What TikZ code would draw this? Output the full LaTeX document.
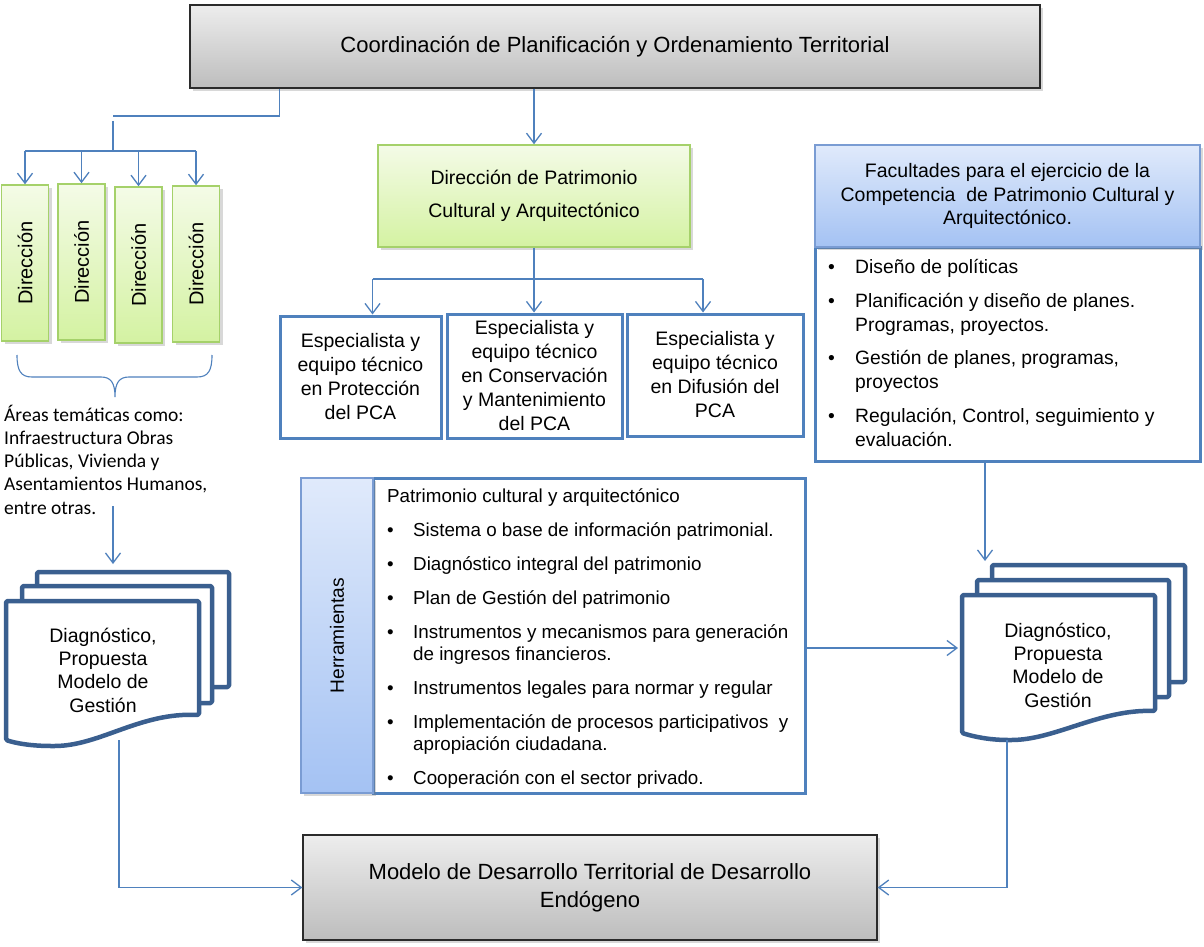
\documentclass[tikz,border=0pt]{standalone}
\usepackage{fontspec}
\setmainfont{Liberation Sans}
\newfontfamily\calibfont{Carlito}
\usepackage{graphicx}
\usetikzlibrary{arrows.meta,shadows,calc}
\definecolor{colLink}{HTML}{4F81BD}
\definecolor{colBlue}{HTML}{4F81BD}
\definecolor{colDoc}{HTML}{3A5F8F}
\definecolor{colGrayT}{HTML}{EDEDED}
\definecolor{colGrayD}{HTML}{BDBDBD}
\definecolor{colGrayB}{HTML}{2B2B2B}
\definecolor{colGreenT}{HTML}{F4FBE7}
\definecolor{colGreenD}{HTML}{D4F2A2}
\definecolor{colGreenB}{HTML}{A5D16A}
\definecolor{colHdrT}{HTML}{E0EAFB}
\definecolor{colHdrD}{HTML}{A4C2F3}
\definecolor{colHdrB}{HTML}{7A9CD3}
\newcommand{\fsz}[2]{\fontsize{#1pt}{#2pt}\selectfont}
\begin{document}
\begin{tikzpicture}[x=1pt,y=-1pt,
  lnk/.style={draw=colLink, line width=1.3pt},
  arr/.style={lnk, -{Straight Barb[length=10pt,width=15pt]}},
  shad/.style={drop shadow={shadow xshift=3pt, shadow yshift=-3pt, opacity=0.3}},
  graybox/.style={draw=colGrayB, line width=1.3pt, top color=colGrayT, bottom color=colGrayD, shad, inner sep=0pt, align=center},
  greenbox/.style={draw=colGreenB, line width=1.5pt, top color=colGreenT, bottom color=colGreenD, shad, inner sep=0pt, align=center},
  hdrbox/.style={draw=colHdrB, line width=1.5pt, top color=colHdrT, bottom color=colHdrD, shad, inner sep=0pt, align=center},
  specbox/.style={draw=colBlue, line width=3pt, fill=white, inner sep=0pt, align=center, font=\fsz{19.5}{24}},
  plainbox/.style={draw=colBlue, line width=3pt, fill=white, inner sep=0pt},
  docpage/.style={draw=colDoc, line width=4.5pt, fill=white, line join=round, rounded corners=1.5pt},
  doctext/.style={align=center, font=\fsz{19.5}{23.3}, inner sep=0pt}
]
\useasboundingbox (0,0) rectangle (1204,947);
\fill[white] (0,0) rectangle (1204,947);

% top box
\node[graybox, minimum width=850pt, minimum height=83pt, font=\fsz{22}{26}] (coord) at (615,46.5)
  {Coordinación de Planificación y Ordenamiento Territorial};

% direction boxes
\node[greenbox, minimum width=47pt, minimum height=156pt, font=\fsz{20}{22}] (dir1) at (25,263) {\rotatebox{90}{Dirección}};
\node[greenbox, minimum width=47pt, minimum height=156pt, font=\fsz{20}{22}] (dir2) at (81.5,262) {\rotatebox{90}{Dirección}};
\node[greenbox, minimum width=47pt, minimum height=156pt, font=\fsz{20}{22}] (dir3) at (138.5,265) {\rotatebox{90}{Dirección}};
\node[greenbox, minimum width=47pt, minimum height=156pt, font=\fsz{20}{22}] (dir4) at (196,264) {\rotatebox{90}{Dirección}};

% patrimonio
\node[greenbox, minimum width=312pt, minimum height=102pt, font=\fsz{19.5}{33}] (pat) at (534,196)
  {Dirección de Patrimonio\\Cultural y Arquitectónico};

% specialists
\node[specbox, minimum width=161pt, minimum height=122pt] (spA) at (360.5,377)
  {Especialista y\\equipo técnico\\en Protección\\del PCA};
\node[specbox, minimum width=175pt, minimum height=124pt] (spB) at (534.5,376)
  {Especialista y\\equipo técnico\\en Conservación\\y Mantenimiento\\del PCA};
\node[specbox, minimum width=176pt, minimum height=122pt] (spC) at (715,375)
  {Especialista y\\equipo técnico\\en Difusión del\\PCA};

% facultades
\node[plainbox, minimum width=385pt, minimum height=214pt] (facb) at (1007.5,354) {};
\node[hdrbox, minimum width=385pt, minimum height=102pt, font=\fsz{19.5}{23.5}] (fach) at (1007.5,196)
  {Facultades para el ejercicio de la\\Competencia\ \ de Patrimonio Cultural y\\Arquitectónico.};
\node[anchor=base west, inner sep=0pt, font=\fsz{19.3}{24}] (faclist) at (828,273)
  {\begin{tabular}[t]{@{}p{27pt}@{}l@{}}
   \textbullet & Diseño de políticas\\[10pt]
   \textbullet & Planificación y diseño de planes.\\
               & Programas, proyectos.\\[9pt]
   \textbullet & Gestión de planes, programas,\\
               & proyectos\\[10pt]
   \textbullet & Regulación, Control, seguimiento y\\
               & evaluación.
   \end{tabular}};

% herramientas
\node[plainbox, minimum width=432pt, minimum height=315pt] (hbox) at (589,635.5) {};
\node[hdrbox, minimum width=72pt, minimum height=315pt, font=\fsz{19.2}{22}] (hlab) at (337,635.5)
  {\rotatebox{90}{Herramientas}};
\node[anchor=base west, inner sep=0pt, font=\fsz{18.8}{22.5}] (hlist) at (387,502)
  {\begin{tabular}[t]{@{}p{26pt}@{}l@{}}
   \multicolumn{2}{@{}l@{}}{Patrimonio cultural y arquitectónico}\\[11.5pt]
   \textbullet & Sistema o base de información patrimonial.\\[11.5pt]
   \textbullet & Diagnóstico integral del patrimonio\\[11.5pt]
   \textbullet & Plan de Gestión del patrimonio\\[11.5pt]
   \textbullet & Instrumentos y mecanismos para generación\\
               & de ingresos financieros.\\[11pt]
   \textbullet & Instrumentos legales para normar y regular\\[11.5pt]
   \textbullet & Implementación de procesos participativos\ \ y\\
               & apropiación ciudadana.\\[11.5pt]
   \textbullet & Cooperación con el sector privado.
   \end{tabular}};

% areas text
\node[anchor=base west, inner sep=0pt, font=\calibfont\fsz{19.5}{23.3}] (areas) at (4,421)
  {\begin{tabular}[t]{@{}l@{}}
   Áreas temáticas como:\\Infraestructura Obras\\Públicas, Vivienda y\\Asentamientos Humanos,\\entre otras.
   \end{tabular}};

% brace
\draw[lnk, line width=1.1pt] (17,355) .. controls (17,371) and (21,377) .. (32,377) -- (101,377)
  .. controls (111,377) and (115,383) .. (115,397)
  .. controls (115,383) and (119,377) .. (129,377) -- (197,377)
  .. controls (208,377) and (212,371) .. (212,355);

% left document stack
\draw[docpage] (37,572) rectangle (229,687);
\draw[docpage] (22,586) rectangle (212,703);
\draw[docpage] (6,601) -- (199,601) -- (199,715)
  .. controls (140,712) and (100,746) .. (53,746)
  .. controls (30,746) and (15,743) .. (6,740) -- cycle;
\node[doctext] (ldoc) at (103,670) {Diagnóstico,\\Propuesta\\Modelo de\\Gestión};

% right document stack
\draw[docpage] (992,565) rectangle (1185,682);
\draw[docpage] (977,580) rectangle (1169,697);
\draw[docpage] (962,595) -- (1155,595) -- (1155,711)
  .. controls (1100,709) and (1055,740) .. (1010,740)
  .. controls (990,740) and (975,737) .. (962,733) -- cycle;
\node[doctext] (rdoc) at (1058,665) {Diagnóstico,\\Propuesta\\Modelo de\\Gestión};

% bottom box
\node[graybox, minimum width=574pt, minimum height=105pt, font=\fsz{22}{28}] (bot) at (590,887.5)
  {Modelo de Desarrollo Territorial de Desarrollo\\Endógeno};

% connectors
\coordinate (lk1) at (113,116);
\coordinate (lk2) at (113,121);
\coordinate (br) at (113,151);
\draw[lnk] ([xshift=90pt]coord.south west) |- (lk1);
\draw[lnk] (lk2) -- (br);
\draw[lnk] (dir1.north |- br) -- (dir4.north |- br);
\draw[arr] (dir1.north |- br) -- (dir1.north);
\draw[arr] (dir2.north |- br) -- (dir2.north);
\draw[arr] (dir3.north |- br) -- (dir3.north);
\draw[arr] (dir4.north |- br) -- (dir4.north);

\draw[arr] (coord.south -| pat.north) -- (pat.north);

\coordinate (bus) at (0,279);
\draw[lnk] (pat.south) -- (pat.south |- bus);
\draw[lnk] ([xshift=12pt]spA.north |- bus) -- ([xshift=-12pt]spC.north |- bus);
\draw[arr] ([xshift=12pt]spA.north |- bus) -- ([xshift=12pt]spA.north);
\draw[arr] (pat.south) -- (pat.south |- spB.north);
\draw[arr] ([xshift=-12pt]spC.north |- bus) -- ([xshift=-12pt]spC.north);

\coordinate (aro) at (113,506);
\coordinate (ari) at (113,564);
\draw[arr] (aro) -- (ari);

\coordinate (rdin) at (985,561);
\draw[arr] ([xshift=-22.5pt]facb.south) -- (rdin);

\coordinate (rdl) at (958,648);
\draw[arr] ([yshift=-12.5pt]hbox.east) -- (rdl);

\coordinate (ldo) at (119,740);
\draw[arr] (ldo) |- (bot.west);
\coordinate (rdo) at (1007,740);
\draw[arr] (rdo) |- (bot.east);
\end{tikzpicture}
\end{document}
